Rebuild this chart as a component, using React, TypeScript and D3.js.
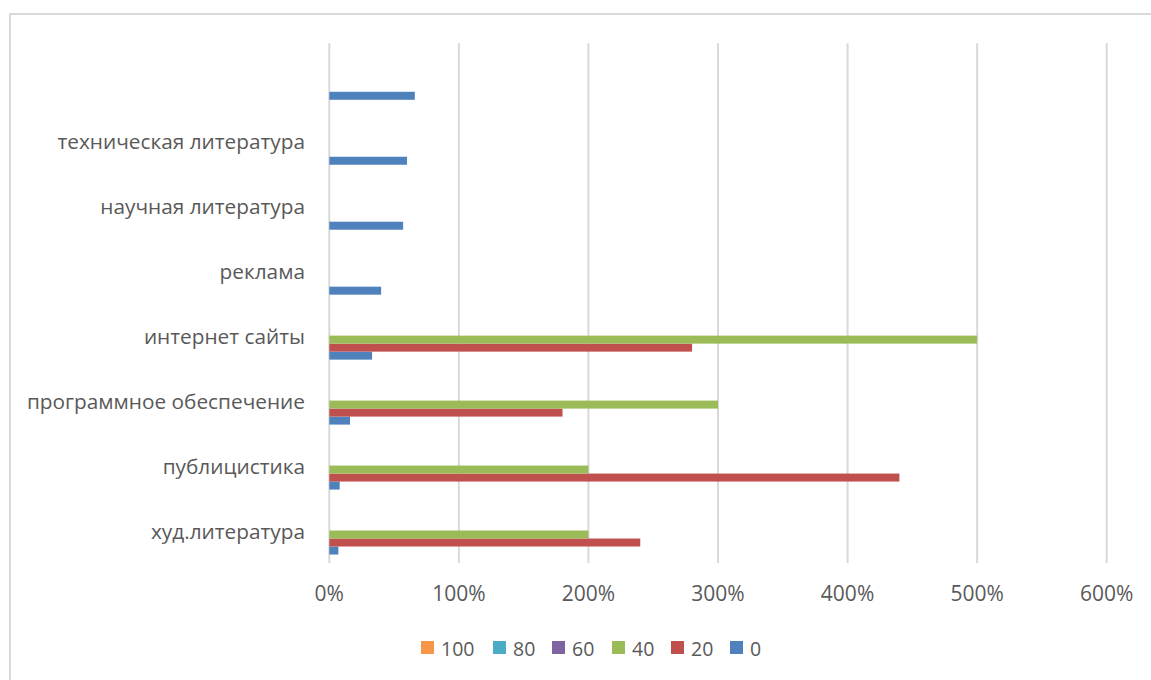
import React from "react";
import * as d3 from "d3";

// Categories, listed bottom to top
const categories = [
  "худ.литература",
  "публицистика",
  "программное обеспечение",
  "интернет сайты",
  "реклама",
  "научная литература",
  "техническая литература",
  "",
];

// Series names and values (percent)
const seriesNames = ["0", "20", "40", "60", "80", "100"];
const s0 = [7, 8, 16, 33, 40, 57, 60, 66];
const s20 = [240, 440, 180, 280, 0, 0, 0, 0];
const s40 = [200, 200, 300, 500, 0, 0, 0, 0];
const s60 = [0, 0, 0, 0, 0, 0, 0, 0];
const s80 = [0, 0, 0, 0, 0, 0, 0, 0];
const s100 = [0, 0, 0, 0, 0, 0, 0, 0];
const seriesValues = [s0, s20, s40, s60, s80, s100];
const seriesColors = ["#4f81bd", "#c0504d", "#9bbb59", "#8064a2", "#4bacc6", "#f79646"];

const xTicks = [0, 100, 200, 300, 400, 500, 600];

const W = 1151;
const H = 680;
const plot = { left: 329.3, right: 1106.7, top: 43.3, bottom: 563 };
const FONT = "'Open Sans', sans-serif";
const TEXT = "#595959";
const GRID = "#d9d9d9";

export default function App() {
  const x = d3.scaleLinear().domain([0, 600]).range([plot.left, plot.right]);
  // bottom category first
  const y = d3
    .scaleBand<number>()
    .domain(d3.range(categories.length))
    .range([plot.bottom, plot.top])
    .paddingInner(0.261)
    .paddingOuter(0.1305);
  // series 0 sits at the bottom of each group
  const ys = d3
    .scaleBand<number>()
    .domain(d3.range(seriesNames.length))
    .range([y.bandwidth(), 0]);

  const legendOrder = [5, 4, 3, 2, 1, 0];
  const legendX = [421, 493, 552, 612, 671, 730];

  return (
    <svg
      width={W}
      height={H}
      style={{ position: "absolute", left: 0, top: 0, display: "block", background: "#fff" }}
    >
      <rect x={10} y={14} width={1200} height={720} fill="#fff" stroke={GRID} strokeWidth={2} />

      {xTicks.map((t) => (
        <line key={t} x1={x(t)} x2={x(t)} y1={plot.top} y2={plot.bottom} stroke={GRID} strokeWidth={2} />
      ))}

      {categories.map((c, i) => (
        <g key={i} transform={`translate(0,${y(i)})`}>
          {seriesValues.map((vals, s) =>
            vals[i] > 0 ? (
              <rect
                key={s}
                x={x(0)}
                y={ys(s)}
                width={x(vals[i]) - x(0)}
                height={ys.bandwidth()}
                fill={seriesColors[s]}
              />
            ) : null
          )}
          <text
            x={305}
            y={y.bandwidth() / 2}
            textAnchor="end"
            dominantBaseline="central"
            fontFamily={FONT}
            fontSize={20.8}
            fill={TEXT}
          >
            {c}
          </text>
        </g>
      ))}

      {xTicks.map((t) => (
        <text
          key={t}
          x={x(t)}
          y={593}
          textAnchor="middle"
          dominantBaseline="central"
          fontFamily={FONT}
          fontSize={21}
          fill={TEXT}
        >
          {`${t}%`}
        </text>
      ))}

      {legendOrder.map((s, k) => (
        <g key={s} transform={`translate(${legendX[k]},641)`}>
          <rect x={0} y={0} width={13} height={13} fill={seriesColors[s]} />
          <text x={20} y={7} dominantBaseline="central" fontFamily={FONT} fontSize={19.5} fill={TEXT}>
            {seriesNames[s]}
          </text>
        </g>
      ))}
    </svg>
  );
}
